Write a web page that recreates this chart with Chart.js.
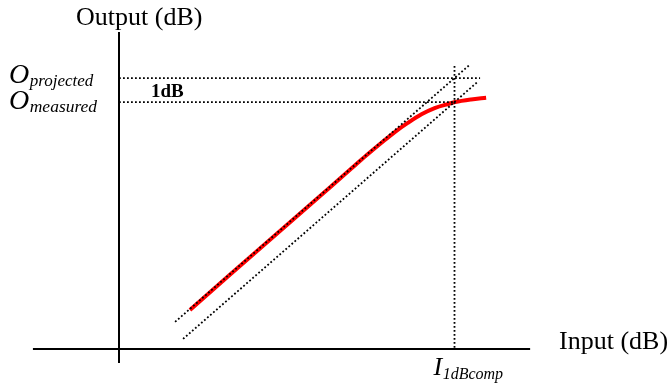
<!DOCTYPE html>
<html>
<head>
<meta charset="utf-8">
<script src="https://cdn.jsdelivr.net/npm/chart.js@4.4.1/dist/chart.umd.min.js"></script>
<style>
  html, body { margin: 0; padding: 0; background: #ffffff; }
  #wrap { width: 667px; height: 390px; }
</style>
</head>
<body>
<div id="wrap"><canvas id="c" width="667" height="390"></canvas></div>
<script>
// Measured amplifier response (dB in -> dB out), compressing near the top
const inputDb  = [2.58, 4.0, 5.5, 7.0, 8.5, 9.0, 9.5, 10.04, 10.5, 11.0, 11.5, 12.0, 12.22, 12.8, 13.35];
const outputDb = [1.63, 3.06, 4.56, 6.06, 7.57, 8.07, 8.55, 9.05, 9.42, 9.78, 10.05, 10.22, 10.29, 10.40, 10.47];

// Ideal linear response: out = in + gain (slope 1 dB/dB)
const linearGain = -0.91;
const compression = 1;                  // dB between projected and measured output
const projectedRange = [2.04, 12.73];   // input span of the projected line
const shiftedRange = [2.33, 13.02];     // input span of the line 1 dB lower

// Marked levels
const oProjected = 11.29;
const oMeasured = oProjected - compression;
const i1dBcomp = 12.2;

// Axis extents (dB)
const inputAxis = [-3.13, 14.95];
const outputAxis = [-0.58, 13.21];
const projectedGuideEnd = 13.13;
const compGuideTop = 11.79;

// Drawn axis labels
const labels = {
  output: 'Output (dB)',
  input: 'Input (dB)',
  oProj: ['O', 'projected'],
  oMeas: ['O', 'measured'],
  iComp: ['I', '1dBcomp'],
  delta: '1dB'
};

const redCurve = inputDb.map((x, i) => ({ x, y: outputDb[i] }));
const lineSeg = (x0, x1, off) => [{ x: x0, y: x0 + off }, { x: x1, y: x1 + off }];

const dotted = { borderColor: '#000', borderWidth: 1.8, borderDash: [1.8, 2.2], pointRadius: 0, showLine: true, fill: false, clip: false, borderCapStyle: 'butt' };
const solid  = { borderColor: '#000', borderWidth: 2, pointRadius: 0, showLine: true, fill: false, clip: false, borderCapStyle: 'butt' };

const textPlugin = {
  id: 'figureText',
  afterDraw(chart) {
    const ctx = chart.ctx;
    const xs = chart.scales.x, ys = chart.scales.y;
    ctx.save();
    ctx.fillStyle = '#000';
    ctx.textBaseline = 'alphabetic';
    ctx.textAlign = 'left';

    const serif = '"Liberation Serif", "Times New Roman", serif';
    const sub = (main, subTxt, x, y, mainSize, subSize, drop) => {
      ctx.font = 'italic ' + mainSize + 'px ' + serif;
      ctx.fillText(main, x, y);
      const w = ctx.measureText(main).width;
      ctx.font = 'italic ' + subSize + 'px ' + serif;
      ctx.fillText(subTxt, x + w + 0.5, y + drop);
    };

    // Axis titles
    ctx.font = '26px ' + serif;
    ctx.fillText(labels.output, 76, 25);
    ctx.fillText(labels.input, 559, ys.getPixelForValue(0));

    // Output level labels
    sub(labels.oProj[0], labels.oProj[1], 9, ys.getPixelForValue(oProjected) + 5, 28, 17, 3);
    sub(labels.oMeas[0], labels.oMeas[1], 9, ys.getPixelForValue(oMeasured) + 7, 28, 17.5, 3);

    // Compression point on the input axis
    sub(labels.iComp[0], labels.iComp[1], xs.getPixelForValue(i1dBcomp) - 21, 375, 26, 16, 4);

    // 1 dB gap
    ctx.font = 'bold 19px ' + serif;
    ctx.fillText(labels.delta, 151, ys.getPixelForValue(oMeasured) - 5);
    ctx.restore();
  }
};

const bgPlugin = {
  id: 'bg',
  beforeDraw(chart) {
    const ctx = chart.ctx;
    ctx.save();
    ctx.fillStyle = '#fff';
    ctx.fillRect(0, 0, chart.width, chart.height);
    ctx.restore();
  }
};

new Chart(document.getElementById('c'), {
  type: 'scatter',
  data: {
    datasets: [
      // axes
      Object.assign({ data: [{ x: inputAxis[0], y: 0 }, { x: inputAxis[1], y: 0 }] }, solid),
      Object.assign({ data: [{ x: 0, y: outputAxis[1] }, { x: 0, y: outputAxis[0] }] }, solid),
      // guides
      Object.assign({ data: [{ x: 0, y: oProjected }, { x: projectedGuideEnd, y: oProjected }] }, dotted),
      Object.assign({ data: [{ x: 0, y: oMeasured }, { x: i1dBcomp, y: oMeasured }] }, dotted),
      Object.assign({ data: [{ x: i1dBcomp, y: compGuideTop }, { x: i1dBcomp, y: 0 }] }, dotted),
      // projected linear response and the line 1 dB below it
      Object.assign({ data: lineSeg(projectedRange[0], projectedRange[1], linearGain) }, dotted),
      Object.assign({ data: lineSeg(shiftedRange[0], shiftedRange[1], linearGain - compression) }, dotted),
      // measured response
      { data: redCurve, borderColor: '#ff0000', borderWidth: 4, pointRadius: 0, showLine: true, fill: false, clip: false, cubicInterpolationMode: 'monotone', borderCapStyle: 'butt' }
    ]
  },
  options: {
    responsive: false,
    animation: false,
    events: [],
    layout: { padding: 0 },
    plugins: { legend: { display: false }, tooltip: { enabled: false } },
    scales: {
      x: { type: 'linear', display: false, min: -119 / 27.5, max: 548 / 27.5 },
      y: { type: 'linear', display: false, min: -41 / 24, max: 349 / 24 }
    }
  },
  plugins: [bgPlugin, textPlugin]
});
</script>
</body>
</html>
